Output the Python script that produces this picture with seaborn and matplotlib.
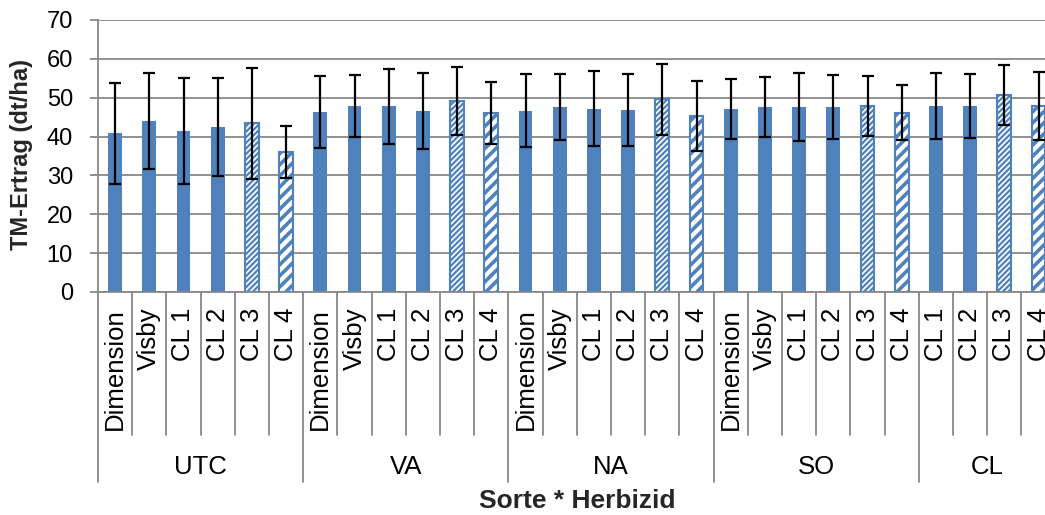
import numpy as np
import pandas as pd
import matplotlib
matplotlib.use("Agg")
import matplotlib.pyplot as plt
import seaborn as sns

# ---------------- data ----------------
groups = ["UTC", "VA", "NA", "SO", "CL"]
group_sorten = [
    ["Dimension", "Visby", "CL 1", "CL 2", "CL 3", "CL 4"],
    ["Dimension", "Visby", "CL 1", "CL 2", "CL 3", "CL 4"],
    ["Dimension", "Visby", "CL 1", "CL 2", "CL 3", "CL 4"],
    ["Dimension", "Visby", "CL 1", "CL 2", "CL 3", "CL 4"],
    ["CL 1", "CL 2", "CL 3", "CL 4"],
]
utc_vals = [40.8, 44.0, 41.4, 42.5, 43.4, 36.0]
va_vals = [46.3, 47.9, 47.8, 46.6, 49.1, 46.1]
na_vals = [46.6, 47.5, 47.2, 46.9, 49.6, 45.4]
so_vals = [47.1, 47.6, 47.6, 47.7, 47.9, 46.1]
cl_vals = [47.9, 47.8, 50.7, 47.8]

utc_err = [13.0, 12.4, 13.6, 12.7, 14.3, 6.7]
va_err = [9.3, 8.0, 9.6, 9.8, 8.8, 8.0]
na_err = [9.4, 8.5, 9.6, 9.3, 9.2, 9.0]
so_err = [7.6, 7.8, 8.8, 8.2, 7.8, 7.1]
cl_err = [8.5, 8.2, 7.8, 8.8]

hatch_dense = "CL 3"
hatch_wide = "CL 4"

# ---------------- build table ----------------
all_vals = [utc_vals, va_vals, na_vals, so_vals, cl_vals]
all_errs = [utc_err, va_err, na_err, so_err, cl_err]
rows = []
for g, sl, vl, el in zip(groups, group_sorten, all_vals, all_errs):
    for s, v, e in zip(sl, vl, el):
        rows.append({"Herbizid": g, "Sorte": s, "Ertrag": v, "SD": e})
df = pd.DataFrame(rows)
df["pos"] = np.arange(len(df))

# ---------------- style ----------------
sns.set_theme(style="white")
plt.rcParams["font.family"] = ["Liberation Sans", "DejaVu Sans"]
plt.rcParams["hatch.linewidth"] = 2.0

blue = "#4F81BD"
grid_c = "#888888"

W, H = 1045, 515
fig = plt.figure(figsize=(W / 100, H / 100), dpi=100)
ax_left, ax_bottom_px, ax_top_px = 98, 292, 20
slot = 34.2
n = len(df)
ax_w = slot * n
ax = fig.add_axes([ax_left / W, 1 - ax_bottom_px / H, ax_w / W, (ax_bottom_px - ax_top_px) / H])

sns.barplot(data=df, x="pos", y="Ertrag", color=blue, width=0.4, saturation=1,
            errorbar=None, ax=ax, zorder=2)

for patch, sorte in zip(ax.patches, df["Sorte"]):
    patch.set_linewidth(0)
    if sorte in (hatch_dense, hatch_wide):
        patch.set_facecolor("white")
        patch.set_edgecolor(blue)
        patch.set_linewidth(1.5)
        if sorte == hatch_dense:
            patch.set_hatch("//////")
            try:
                patch.set_hatch_linewidth(1.6)
            except Exception:
                pass
        else:
            patch.set_hatch("///")
            try:
                patch.set_hatch_linewidth(2.6)
            except Exception:
                pass

ax.errorbar(df["pos"], df["Ertrag"], yerr=df["SD"], fmt="none", ecolor="black",
            elinewidth=1.6, capsize=4.5, capthick=1.6, zorder=3)

ax.set_xlim(-0.5, n - 0.5)
ax.set_ylim(0, 70)
ax.set_yticks(np.arange(0, 71, 10))
ax.yaxis.grid(True, color=grid_c, linewidth=1.3)
ax.xaxis.grid(False)
ax.set_axisbelow(True)
for side in ["top", "right"]:
    ax.spines[side].set_visible(False)
for side in ["left", "bottom"]:
    ax.spines[side].set_color(grid_c)
    ax.spines[side].set_linewidth(1.3)
ax.tick_params(axis="y", which="major", direction="out", length=6, width=1.3,
               color=grid_c, pad=12, labelsize=17, labelcolor="black", left=True)
ax.set_xticks([])
ax.set_xlabel("")
ax.set_ylabel("")

# ---------------- multi-level category axis ----------------
trans = ax.get_xaxis_transform()
axh = ax_bottom_px - ax_top_px
inner_depth = -143 / axh
outer_depth = -190 / axh
boundaries = np.arange(n + 1) - 0.5
group_starts = [0]
for sl in group_sorten:
    group_starts.append(group_starts[-1] + len(sl))
for b in range(n + 1):
    depth = outer_depth if b in group_starts else inner_depth
    ax.plot([boundaries[b], boundaries[b]], [0, depth], transform=trans,
            color=grid_c, lw=1.3, clip_on=False, zorder=1)

for p, s in zip(df["pos"], df["Sorte"]):
    ax.annotate(s, xy=(p, 0), xycoords=trans, xytext=(0, -11.5), textcoords="offset points",
                rotation=90, ha="center", va="top", fontsize=18.5, color="black",
                annotation_clip=False)

for gi, g in enumerate(groups):
    center = (group_starts[gi] + group_starts[gi + 1] - 1) / 2
    ax.text(center, -175 / axh, g, transform=trans, ha="center", va="center",
            fontsize=18.5, color="black", clip_on=False)

fig.text((ax_left + ax_w / 2) / W, 1 - 501 / H, "Sorte * Herbizid", ha="center", va="center",
         fontsize=19, fontweight="bold")
fig.text(22 / W, 1 - 155 / H, "TM-Ertrag (dt/ha)", ha="center", va="center", rotation=90,
         fontsize=17, fontweight="bold")

fig.savefig("out.png", dpi=100)
